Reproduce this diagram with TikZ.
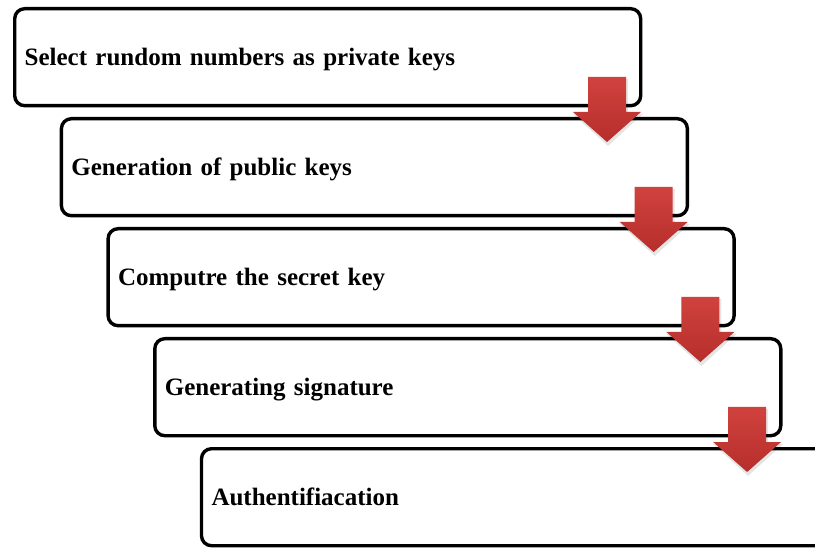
\documentclass[tikz,border=0pt]{standalone}
\usepackage{fontspec}
\setmainfont{Liberation Serif}
\definecolor{arrtop}{RGB}{208,66,62}
\definecolor{arrbot}{RGB}{182,46,43}
\tikzset{
  stepbox/.style={draw=black, line width=3.4pt, rounded corners=10pt, fill=white,
    anchor=north west, minimum height=97pt, text width=606pt, inner xsep=10pt,
    align=left, text height=16pt, text depth=0pt,
    font=\fontsize{25}{28}\selectfont\bfseries},
  downarrow/.style={top color=arrtop, bottom color=arrbot, draw=none},
  arrshadow/.style={fill=black, opacity=0.10, draw=none}
}
\begin{document}
\begin{tikzpicture}[x=1pt,y=-1pt]
\useasboundingbox (0,0) rectangle (815,548);
\clip (0,0) rectangle (815,548);
\node[stepbox, minimum width=626pt] (b1) at (13,7)   {Select rundom numbers as private keys};
\node[stepbox, minimum width=626pt] (b2) at (59.7,117) {Generation of public keys};
\node[stepbox, minimum width=626pt] (b3) at (106.4,227) {Computre the secret key};
\node[stepbox, minimum width=626pt] (b4) at (153.1,337) {Generating signature};
\node[stepbox, minimum width=626pt] (b5) at (199.8,447) {Authentifiacation};
\foreach \i in {0,1,2,3}{
  \pgfmathsetmacro{\cx}{607+46.7*\i}
  \pgfmathsetmacro{\ty}{77+110*\i}
  \fill[arrshadow] (\cx-18,\ty+2) -- (\cx+21,\ty+2) -- (\cx+21,\ty+37) -- (\cx+36,\ty+37)
     -- (\cx+1,\ty+69) -- (\cx-34,\ty+37) -- (\cx-18,\ty+37) -- cycle;
  \shade[downarrow] (\cx-19,\ty) -- (\cx+19,\ty) -- (\cx+19,\ty+35) -- (\cx+34,\ty+35)
     -- (\cx,\ty+65) -- (\cx-34,\ty+35) -- (\cx-19,\ty+35) -- cycle;
}
\end{tikzpicture}
\end{document}
